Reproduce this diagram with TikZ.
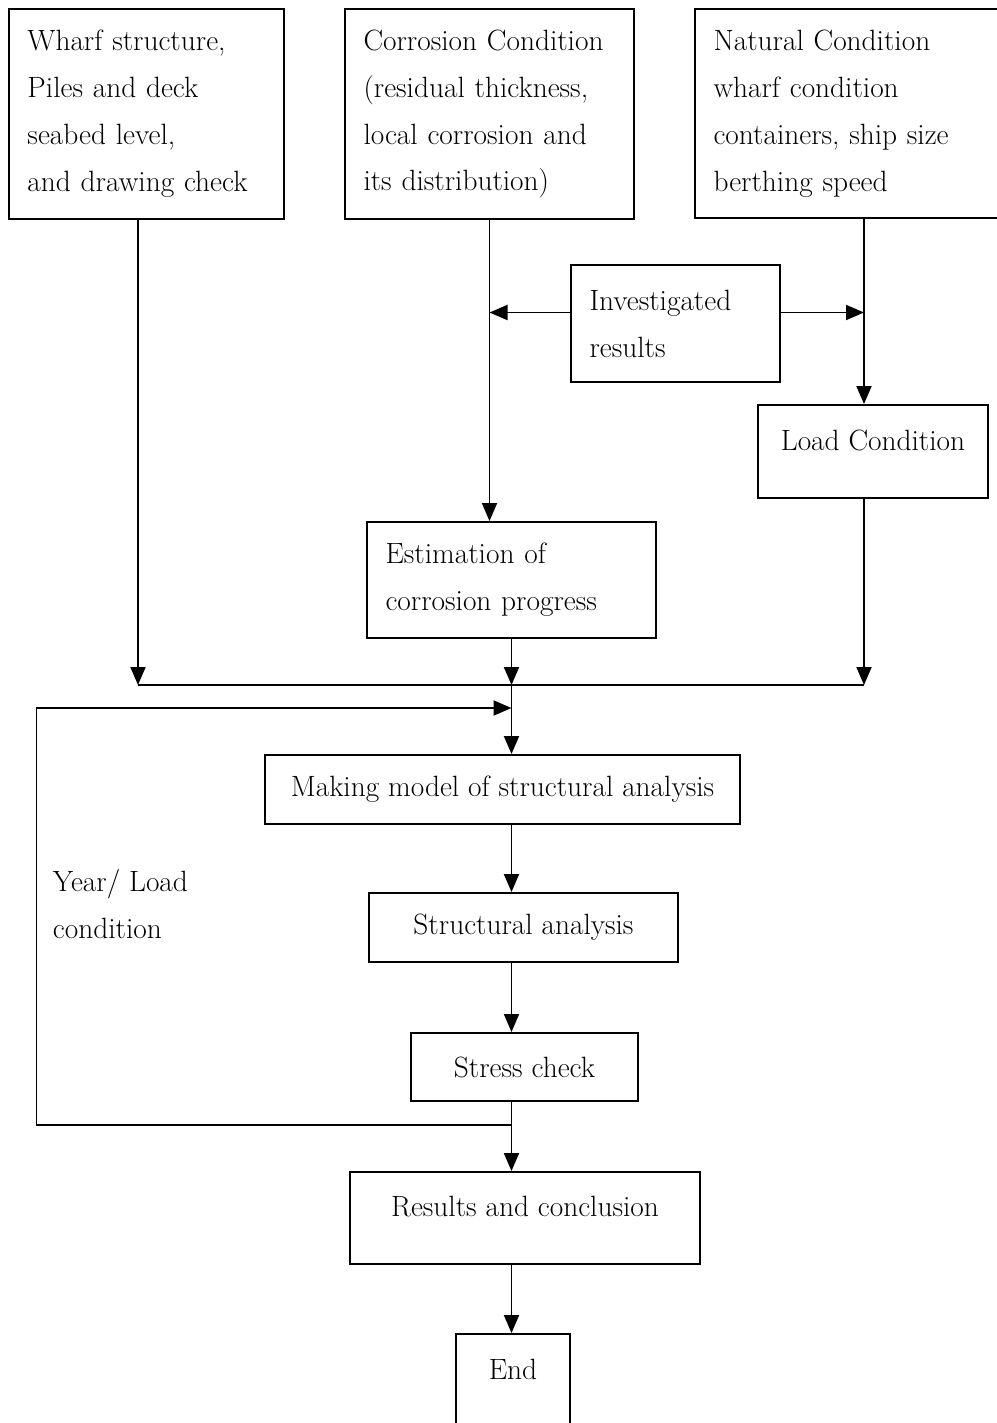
\documentclass[tikz,border=0pt]{standalone}
\usetikzlibrary{arrows.meta,positioning}

\begin{document}
\begin{tikzpicture}[x=0.2mm,y=-0.2mm,->,>={Triangle[length=3.6mm,width=3mm]},
  line width=1.1pt, every node/.style={font=\fontsize{16.7}{26.7}\selectfont},
  box/.style={draw,rectangle,line width=1.1pt,inner sep=0pt,align=center},
  lbox/.style={box,align=left,inner xsep=3.7mm}]
  \useasboundingbox (0,0) rectangle (997,1423);

  % input boxes
  \node[lbox,text width=47.6mm,minimum height=42mm] (wharf) at (146.5,114)
    {Wharf structure,\\Piles and deck\\seabed level,\\and drawing check};
  \node[lbox,text width=50.4mm,minimum height=42mm] (corr) at (489.5,114)
    {Corrosion Condition\\(residual thickness,\\local corrosion and\\its distribution)};
  \node[lbox,text width=60.2mm,minimum height=41.8mm] (nat) at (864,113.5)
    {Natural Condition\\wharf condition\\containers, ship size\\berthing speed};

  \node[lbox,text width=34.4mm,minimum height=23.4mm] (inv) at (675.5,323.5)
    {Investigated\\results};
  \node[box,minimum width=46mm,minimum height=18.6mm,text depth=4.5mm] (load) at (873,451.5)
    {Load Condition};
  \node[lbox,text width=50.4mm,minimum height=23.2mm] (est) at (511.5,580)
    {Estimation of\\corrosion progress};

  % analysis chain
  \node[box,minimum width=95mm,minimum height=13.8mm] (model) at (502.5,789.5)
    {Making model of structural analysis};
  \node[box,minimum width=61.8mm,minimum height=13.8mm] (anal) at (523.5,927.5)
    {Structural analysis};
  \node[box,minimum width=45.4mm,minimum height=13.6mm] (stress) at (524.5,1067)
    {Stress check};
  \node[box,minimum width=70mm,minimum height=18.4mm,text height=4mm,text depth=4.8mm] (res) at (525,1218)
    {Results and conclusion};
  \node[box,minimum width=22.8mm,minimum height=21.2mm,text height=4mm,text depth=7.2mm] (fin) at (513,1387)
    {End};

  \node[anchor=west,align=left,inner sep=0pt] (loop) at (52,904) {Year/ Load\\condition};

  % connectors
  \coordinate (mrg) at (est.south |- 0,685);
  \coordinate (wl) at ([xshift=-1.7mm]wharf.south |- mrg);
  \draw ([xshift=-1.7mm]wharf.south) -- (wl);
  \draw (corr.south) -- (corr.south |- est.north);
  \draw ([yshift=2.2mm]inv.west) coordinate (iw) -- (iw -| corr.south);
  \draw ([yshift=2.2mm]inv.east) coordinate (ie) -- (ie -| nat.south);
  \draw (nat.south) -- (nat.south |- load.north);
  \draw (nat.south |- load.south) -- (nat.south |- mrg);
  \draw[-] (wl) -- (nat.south |- mrg);
  \draw (est.south) -- (mrg);
  \draw (mrg) -- (mrg |- model.north);
  \draw (mrg |- model.south) -- (mrg |- anal.north);
  \draw (mrg |- anal.south) -- (mrg |- stress.north);
  \draw (mrg |- stress.south) -- (mrg |- res.north);
  \draw (mrg |- res.south) -- (mrg |- fin.north);

  % feedback loop
  \coordinate (lb) at (mrg |- 0,1125);
  \coordinate (lt) at (mrg |- 0,708);
  \draw (lb) -- ++(-475,0) |- (lt);

\end{tikzpicture}
\end{document}
